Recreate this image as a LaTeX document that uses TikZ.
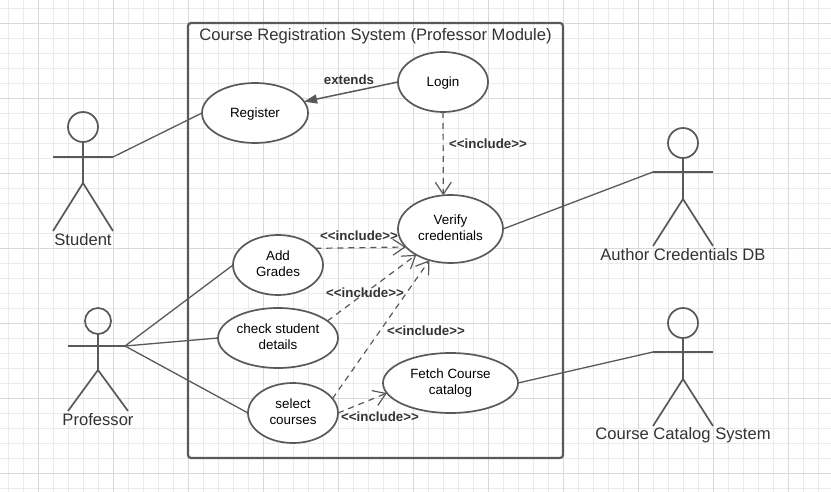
\documentclass[tikz,border=0pt]{standalone}
\usepackage{fontspec}
\setmainfont{Liberation Sans}
\usetikzlibrary{arrows.meta,shapes.geometric}
\definecolor{lineC}{HTML}{595959}
\definecolor{textC}{HTML}{333333}
\definecolor{gridMinor}{HTML}{EBEBEB}
\definecolor{gridMajor}{HTML}{D9D9D9}
\tikzset{
  usecase/.style={draw=lineC,line width=1.7pt,fill=white,ellipse,inner sep=0pt,outer sep=0pt,align=center,text=black,font=\fontsize{13.4}{16}\selectfont},
  oneline/.style={text height=9.2pt,text depth=0pt},
  twoline/.style={text height=26pt,text depth=3pt},
  headshape/.style={draw=lineC,line width=1.7pt,circle,inner sep=0pt,outer sep=0pt},
  actorline/.style={draw=lineC,line width=1.7pt},
  actorname/.style={text=textC,inner sep=0pt,font=\fontsize{16.6}{19}\selectfont},
  assoc/.style={draw=lineC,line width=1.3pt},
  incl/.style={draw=lineC,line width=1.2pt,dash pattern=on 6pt off 5pt,-{Straight Barb[length=12pt,width=16pt,line width=1.2pt]}},
  stereo/.style={text=textC,inner sep=0pt,font=\fontsize{13.3}{15}\bfseries\selectfont},
}
\begin{document}
\begin{tikzpicture}[x=1pt,y=-1pt]
\useasboundingbox (0,0) rectangle (831,492);
\fill[white] (0,0) rectangle (831,492);
% grid
\foreach \gx in {8,23,...,831} \draw[gridMinor,line width=0.8pt] (\gx,0) -- (\gx,492);
\foreach \gy in {8,23,...,492} \draw[gridMinor,line width=0.8pt] (0,\gy) -- (831,\gy);
\foreach \gx in {38,113,...,831} \draw[gridMajor,line width=0.8pt] (\gx,0) -- (\gx,492);
\foreach \gy in {23,98,...,492} \draw[gridMajor,line width=0.8pt] (0,\gy) -- (831,\gy);
% system box
\node[draw=lineC,line width=2.2pt,rounded corners=3pt,minimum width=375pt,minimum height=435pt,inner sep=0pt] (sysbox) at (375.5,240.5) {};
\node[text=textC,inner sep=0pt,font=\fontsize{16.6}{20}\selectfont] (systitle) at (375.5,36) {Course Registration System (Professor Module)};
% use cases
\node[usecase,oneline,minimum width=90pt,minimum height=60pt] (login) at (443,82) {Login};
\node[usecase,oneline,minimum width=106pt,minimum height=60pt] (register) at (255,113) {Register};
\node[usecase,twoline,minimum width=105pt,minimum height=68pt] (verify) at (450.5,229) {Verify\\credentials};
\node[usecase,twoline,minimum width=90pt,minimum height=60pt] (add) at (278,265) {Add\\Grades};
\node[usecase,twoline,minimum width=120pt,minimum height=60pt] (check) at (278,338) {check student\\details};
\node[usecase,twoline,minimum width=90pt,minimum height=60pt] (select) at (293,413) {select\\courses};
\node[usecase,twoline,minimum width=135pt,minimum height=60pt] (fetch) at (450.5,383) {Fetch Course\\catalog};
% actors
\node[headshape,minimum size=30pt] (sHead) at (83,127) {};
\coordinate (sL) at (53,157); \coordinate (sR) at (113,157); \coordinate (sHip) at (83,183);
\coordinate (sFL) at (53,231); \coordinate (sFR) at (113,231);
\node[actorname] (sName) at (83,240) {Student};
\node[headshape,minimum size=26pt] (pHead) at (98,321) {};
\coordinate (pL) at (68,346); \coordinate (pR) at (125,346); \coordinate (pHip) at (98,370);
\coordinate (pFL) at (68,411); \coordinate (pFR) at (128,411);
\node[actorname] (pName) at (98,420) {Professor};
\node[headshape,minimum size=30pt] (aHead) at (683,143) {};
\coordinate (aL) at (653,172); \coordinate (aR) at (713,172); \coordinate (aHip) at (683,199);
\coordinate (aFL) at (653,246); \coordinate (aFR) at (713,246);
\node[actorname] (aName) at (683,255) {Author Credentials DB};
\node[headshape,minimum size=30pt] (cHead) at (683,323) {};
\coordinate (cL) at (653,352); \coordinate (cR) at (713,352); \coordinate (cHip) at (683,379);
\coordinate (cFL) at (653,426); \coordinate (cFR) at (713,426);
\node[actorname] (cName) at (683,435) {Course Catalog System};
\foreach \a in {s,p,a,c}{
  \draw[actorline] (\a L) -- (\a R);
  \draw[actorline] (\a Head.south) -- (\a Hip);
  \draw[actorline] (\a FL) -- (\a Hip) -- (\a FR);
}
% associations
\draw[assoc] (sR) -- (register.west);
\draw[assoc] (pR) -- (add.west);
\draw[assoc] (pR) -- (check.west);
\draw[assoc] (pR) -- (select.west);
\draw[assoc] (verify.east) -- (aL);
\draw[assoc] (fetch.east) -- (cL);
% extends
\draw[draw=lineC,line width=1.5pt,-{Triangle[length=13pt,width=9pt,fill=lineC]}] (login.west) -- (register.13);
% includes
\draw[incl] (login.south) -- (verify.102);
\draw[incl] (add.24) -- (verify.202);
\draw[incl] (check.19) -- (verify.217);
\draw[incl] (select.20) -- (verify.236);
\draw[incl] (select.east) -- (fetch.189);
% labels
\node[stereo] (lblExt) at (349,79.5) {extends};
\node[stereo] (lbl1) at (488,143.5) {<{}<include>{}>};
\node[stereo] (lbl2) at (359,235.5) {<{}<include>{}>};
\node[stereo] (lbl3) at (365,292.5) {<{}<include>{}>};
\node[stereo] (lbl4) at (426,330.5) {<{}<include>{}>};
\node[stereo] (lbl5) at (380,416.5) {<{}<include>{}>};
\end{tikzpicture}
\end{document}
